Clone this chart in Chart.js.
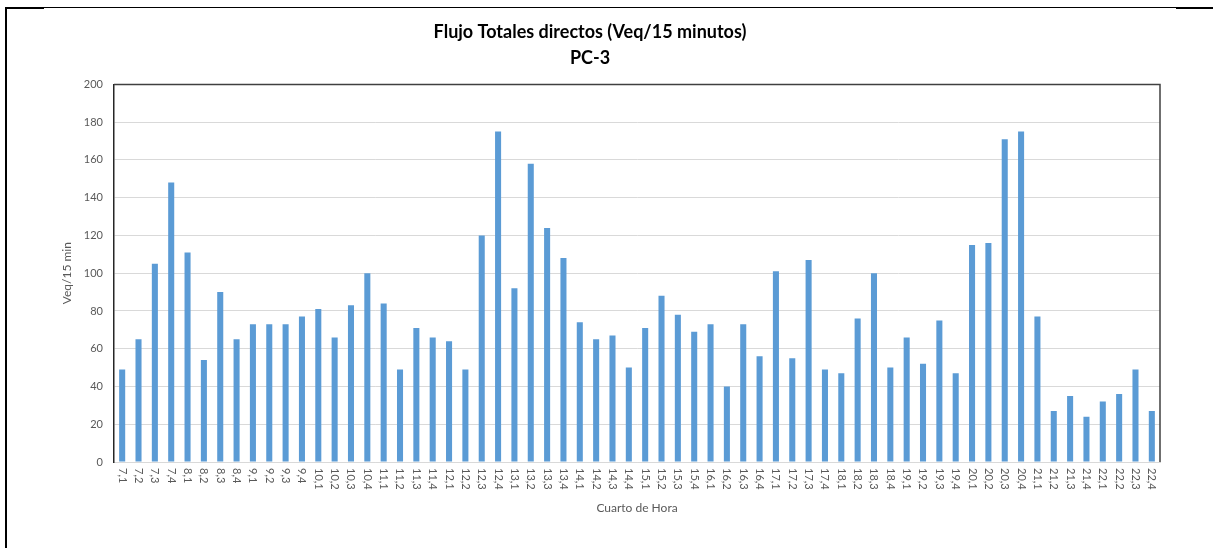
<!DOCTYPE html>
<html>
<head>
<meta charset="utf-8">
<script src="https://cdn.jsdelivr.net/npm/chart.js@4.4.1/dist/chart.umd.min.js"></script>
<style>
  html, body { margin: 0; padding: 0; background: #fff; }
  #wrap { position: relative; width: 1213px; height: 548px; }
  #myChart { position: absolute; left: 0; top: 0; }
  .edge { position: absolute; background: #000; }
</style>
</head>
<body>
<div id="wrap">
  <div class="edge" style="left:5px; top:7px; width:2px; height:541px;"></div>
  <div class="edge" style="left:5px; top:7px; width:1208px; height:1px;"></div>
  <div class="edge" style="left:5px; top:7px; width:39px; height:2px;"></div>
  <div class="edge" style="left:1176px; top:7px; width:37px; height:2px;"></div>
  <canvas id="myChart" width="1213" height="548"></canvas>
</div>
<script>
// cuartos de hora 7,1 ... 22,4
var hours = [7, 8, 9, 10, 11, 12, 13, 14, 15, 16, 17, 18, 19, 20, 21, 22];
var quarters = [1, 2, 3, 4];
var xValues = [];
hours.forEach(function (h) {
  quarters.forEach(function (q) { xValues.push(h + "," + q); });
});

var yValues = [
  49, 65, 105, 148,   // 7
  111, 54, 90, 65,    // 8
  73, 73, 73, 77,     // 9
  81, 66, 83, 100,    // 10
  84, 49, 71, 66,     // 11
  64, 49, 120, 175,   // 12
  92, 158, 124, 108,  // 13
  74, 65, 67, 50,     // 14
  71, 88, 78, 69,     // 15
  73, 40, 73, 56,     // 16
  101, 55, 107, 49,   // 17
  47, 76, 100, 50,    // 18
  66, 52, 75, 47,     // 19
  115, 116, 171, 175, // 20
  77, 27, 35, 24,     // 21
  32, 36, 49, 27      // 22
];

var yTicks = [0, 20, 40, 60, 80, 100, 120, 140, 160, 180, 200];

var grey = "#595959";
var fontName = "Lato";

// etiquetas del eje X giradas + marco superior/derecho del area
var framePlugin = {
  id: "framePlugin",
  afterDraw: function (chart) {
    var ctx = chart.ctx;
    var a = chart.chartArea;
    var xs = chart.scales.x;
    ctx.save();
    ctx.strokeStyle = "#404040";
    ctx.lineWidth = 1.5;
    ctx.beginPath();
    ctx.moveTo(a.left, a.top);
    ctx.lineTo(a.right, a.top);
    ctx.lineTo(a.right, a.bottom);
    ctx.stroke();

    ctx.fillStyle = grey;
    ctx.font = "11px " + fontName;
    ctx.textAlign = "left";
    ctx.textBaseline = "middle";
    xValues.forEach(function (lbl, i) {
      var px = xs.getPixelForTick(i);
      ctx.save();
      ctx.translate(px, a.bottom + 6);
      ctx.rotate(Math.PI / 2);
      ctx.fillText(lbl, 0, 0);
      ctx.restore();
    });
    ctx.restore();
  }
};

new Chart("myChart", {
  type: "bar",
  data: {
    labels: xValues,
    datasets: [{
      data: yValues,
      backgroundColor: "#5B9BD5",
      barPercentage: 0.37,
      categoryPercentage: 1.0
    }]
  },
  options: {
    responsive: false,
    animation: false,
    layout: {
      padding: { left: 20, right: 53, top: 0, bottom: 0 }
    },
    plugins: {
      legend: { display: false },
      tooltip: { enabled: false },
      title: {
        display: true,
        text: ["Flujo Totales directos (Veq/15 minutos)", "PC-3"],
        color: "#000",
        font: { family: fontName, size: 18, weight: "bold", lineHeight: 1.4 },
        padding: { top: 20, bottom: 14 }
      }
    },
    scales: {
      x: {
        grid: { display: false, drawTicks: false },
        border: { display: true, color: "#d9d9d9" },
        ticks: { display: false },
        title: {
          display: true,
          text: "Cuarto de Hora",
          color: grey,
          font: { family: fontName, size: 12 },
          padding: { top: 0, bottom: 33 }
        },
        afterFit: function (scale) { scale.height = 86; }
      },
      y: {
        min: 0,
        max: 200,
        afterBuildTicks: function (scale) {
          scale.ticks = yTicks.map(function (v) { return { value: v }; });
        },
        grid: { color: "#d9d9d9", drawTicks: false },
        border: { display: true, color: "#262626", width: 1.5 },
        ticks: {
          color: grey,
          padding: 11,
          font: { family: fontName, size: 11 }
        },
        title: {
          display: true,
          text: "Veq/15 min",
          color: grey,
          font: { family: fontName, size: 12 },
          padding: { top: 40, bottom: 0 }
        },
        afterFit: function (scale) { scale.width = 94; }
      }
    }
  },
  plugins: [framePlugin]
});
</script>
</body>
</html>
